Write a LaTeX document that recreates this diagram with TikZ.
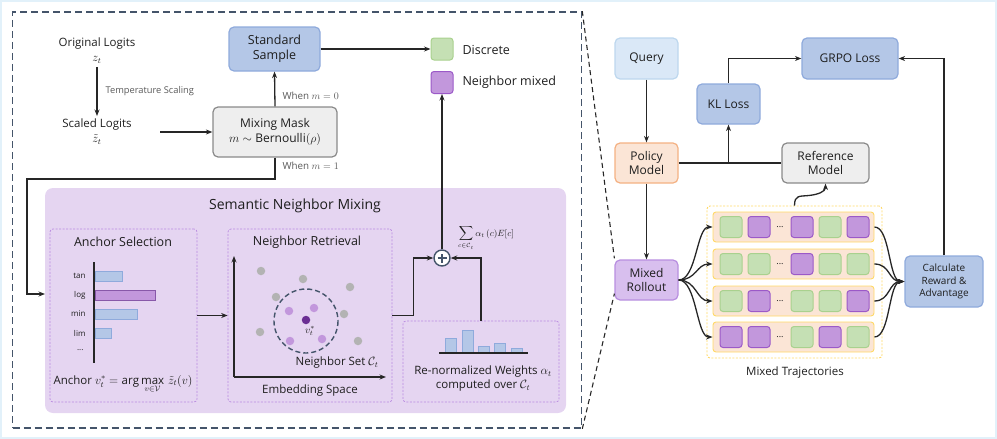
\documentclass[tikz,border=0pt]{standalone}
\usepackage{fontspec}
\setmainfont{Open Sans}
\usetikzlibrary{arrows.meta,shapes.geometric}
\definecolor{cBlue}{HTML}{B4C7E7}
\definecolor{cBlueD}{HTML}{8FAADC}
\definecolor{cQ}{HTML}{DAE8F7}
\definecolor{cQD}{HTML}{BDD7EE}
\definecolor{cOr}{HTML}{FBE5D6}
\definecolor{cOrD}{HTML}{F4B183}
\definecolor{cRo}{HTML}{D8BFEE}
\definecolor{cRoD}{HTML}{B88EE0}
\definecolor{cGr}{HTML}{EEEEEE}
\definecolor{cGrD}{HTML}{8A8A8A}
\definecolor{cG}{HTML}{C5E0B4}
\definecolor{cGD}{HTML}{A9D18E}
\definecolor{cP}{HTML}{C297DC}
\definecolor{cPD}{HTML}{9B59C8}
\definecolor{cPanel}{HTML}{E5D5F1}
\definecolor{cDash}{HTML}{B98AE0}
\definecolor{cOut}{HTML}{44546A}
\definecolor{cYel}{HTML}{FFD966}
\definecolor{cDot}{HTML}{B3B3B3}
\definecolor{cDk}{HTML}{6A2E93}
\definecolor{cTxt}{HTML}{1E1E1E}
\definecolor{cGray}{HTML}{595959}
\definecolor{cFrame}{HTML}{E2F1FA}
\begin{document}
\begin{tikzpicture}[x=1pt,y=-1pt,
  every node/.style={text=cTxt},
  box/.style={draw, rounded corners=5pt, line width=1.2pt, align=center, inner sep=0pt, font=\fontsize{12}{14.5}\selectfont},
  bluebox/.style={box, fill=cBlue, draw=cBlueD},
  qbox/.style={box, fill=cQ, draw=cQD},
  obox/.style={box, fill=cOr, draw=cOrD},
  rbox/.style={box, fill=cRo, draw=cRoD},
  gbox/.style={box, fill=cGr, draw=cGrD},
  arr/.style={-{Stealth[length=6.5pt,width=5pt]}, line width=1.3pt, draw=black!85},
  plain/.style={line width=1.3pt, draw=black!85},
  dbox/.style={draw=cDash, dash pattern=on 2pt off 1.5pt, rounded corners=3pt, line width=0.7pt, inner sep=0pt},
  sq/.style={minimum width=22pt, minimum height=21pt, rounded corners=3pt, line width=1pt, inner sep=0pt},
  gsq/.style={sq, fill=cG, draw=cGD},
  psq/.style={sq, fill=cP, draw=cPD},
  rowbox/.style={fill=cOr, draw=cYel, line width=0.9pt, rounded corners=3pt, minimum width=161pt, minimum height=30pt, inner sep=0pt},
  txt/.style={font=\fontsize{11.5}{15}\selectfont, align=center},
  small/.style={font=\fontsize{9.3}{11}\selectfont, text=cGray},
  whenl/.style={font=\fontsize{9.8}{11}\selectfont, text=cGray},
  bartick/.style={font=\fontsize{8}{9}\selectfont, anchor=east},
  dot/.style={circle, inner sep=0pt, minimum size=8.5pt},
  bbar/.style={fill=cBlue, draw=cBlueD, line width=0.8pt},
  pbar/.style={fill=cP, draw=cDk!80, line width=0.8pt}
]
\useasboundingbox (0,0) rectangle (997,439);
\draw[cFrame, line width=2pt] (1,1) rectangle (996,438);

% outer dashed box
\node[draw=cOut, dash pattern=on 7pt off 4pt, line width=1.6pt, minimum width=569pt, minimum height=416pt, inner sep=0pt] (outer) at (297,220) {};

% ---------- left top ----------
\node[txt, inner sep=1pt] (orig) at (97,51) {Original Logits\\$z_t$};
\node[txt, inner sep=1pt] (scaled) at (97,132) {Scaled Logits\\$\tilde{z}_t$};
\draw[arr, shorten <=2pt, shorten >=2pt] (orig) -- (scaled);
\node[small, anchor=west] (temp) at (102,91) {Temperature Scaling};

\node[gbox, minimum width=124pt, minimum height=50pt] (mask) at (275,132) {Mixing Mask\\$m\sim\mathrm{Bernoulli}(\rho)$};
\node[bluebox, font=\fontsize{12.5}{15}\selectfont, minimum width=91pt, minimum height=44pt] (std) at (274.5,49) {Standard\\Sample};
\coordinate (sl) at (160,132);
\draw[arr] (sl) -- (mask.west);
\draw[arr] (mask.north) -- (std.south);
\node[whenl, anchor=west] at (279,96) {When $m=0$};
\node[whenl, anchor=west] at (279,166) {When $m=1$};

% legend
\node[gsq, minimum width=22pt, minimum height=22pt] (legG) at (442,49) {};
\node[anchor=west, font=\fontsize{12.5}{14}\selectfont] at (459,50) {Discrete};
\node[psq, minimum width=22pt, minimum height=22pt] (legP) at (442,82.5) {};
\node[anchor=west, font=\fontsize{12.5}{14}\selectfont] at (459,82) {Neighbor mixed};
\draw[arr] (std.east) -- (legG.west);

% ---------- semantic neighbor mixing panel ----------
\node[fill=cPanel, rounded corners=8pt, minimum width=521pt, minimum height=225pt, inner sep=0pt] (panel) at (305.5,300.5) {};
\node[font=\fontsize{14}{16}\selectfont] at (295,206) {Semantic Neighbor Mixing};

\coordinate (lc) at (27,179);
\coordinate (mm1) at (45,294);
\draw[arr] (mask.south) |- (lc) |- (mm1);

% anchor selection
\node[dbox, minimum width=147pt, minimum height=173pt] (as) at (123.5,315.5) {};
\node[font=\fontsize{12.5}{14}\selectfont] at (123,242) {Anchor Selection};
\draw[line width=1.2pt, black!85] (94,262) -- (94,363);
\draw[bbar] (95,271) rectangle (122,281);
\draw[pbar] (95,290.5) rectangle (155,300);
\draw[bbar] (95,309) rectangle (137,319);
\draw[bbar] (95,328) rectangle (111,338);
\node[bartick] at (89,276) {tan};
\node[bartick] at (89,295.5) {log};
\node[bartick] at (89,314) {min};
\node[bartick] at (89,333) {lim};
\node[bartick] at (87,350) {...};
\node[font=\fontsize{11.5}{13}\selectfont, inner sep=0pt] at (123,384) {Anchor $v_t^{*}=\arg\max\limits_{v\in\mathcal{V}}\,\tilde{z}_t(v)$};

% neighbor retrieval
\node[dbox, minimum width=164pt, minimum height=173pt] (nr) at (310,315.5) {};
\node[font=\fontsize{12.5}{14}\selectfont] at (307,242) {Neighbor Retrieval};
\draw[arr] (as.east) -- (nr.west);
\draw[arr] (234,377) -- (234,256);
\draw[arr] (234,377) -- (386,377);
\foreach \p in {(261,271),(303,279),(350,287),(276,297),(344,314),(260,332),(358,341)}
  \node[dot, fill=cDot] at \p {};
\foreach \p in {(289,311),(314,308),(290,341),(322,339)}
  \node[dot, fill=cP] at \p {};
\node[dot, fill=cDk] (anc) at (306,320) {};
\node[font=\fontsize{10}{11}\selectfont] at (310,331) {$v_t^{*}$};
\draw[cOut, line width=1.4pt, dash pattern=on 5pt off 3pt] (306,321) circle (32);
\node[font=\fontsize{11.5}{13}\selectfont] at (337,363) {Neighbor Set $\mathcal{C}_t$};
\node[font=\fontsize{11.5}{13}\selectfont] at (310,391) {Embedding Space};

% re-normalized weights
\node[dbox, minimum width=156pt, minimum height=81pt] (rw) at (481,361.5) {};
\draw[bbar] (445,338) rectangle (456,353);
\draw[bbar] (462,330) rectangle (473,353);
\draw[bbar] (478,346) rectangle (489,353);
\draw[bbar] (494,343) rectangle (505,353);
\draw[bbar] (511,348) rectangle (522,353);
\draw[line width=1.2pt, black!85] (439,353) -- (528,353);
\node[font=\fontsize{11.5}{14}\selectfont, align=center] at (483,379) {Re-normalized Weights $\alpha_t$\\computed over $\mathcal{C}_t$};

% plus
\node[circle, draw=cOut, fill=white, line width=1.4pt, minimum size=16pt, inner sep=0pt] (plus) at (442,258) {};
\draw[cOut, line width=1.4pt] ([xshift=-4.5pt]plus.center) -- ([xshift=4.5pt]plus.center);
\draw[cOut, line width=1.4pt] ([yshift=-4.5pt]plus.center) -- ([yshift=4.5pt]plus.center);
\draw[arr] (nr.east) -- ++(21,0) |- (plus.west);
\draw[arr] (rw.north) |- (plus.east);
\draw[arr] (plus.north) -- (legP.south);
\node[font=\fontsize{9}{11}\selectfont] at (486,238) {$\displaystyle\sum_{c\in\mathcal{C}_t}\alpha_t\,(c)E[c]$};

% ---------- right side ----------
\node[qbox, minimum width=63pt, minimum height=41pt] (query) at (646.5,58.5) {Query};
\node[obox, minimum width=63pt, minimum height=40pt] (policy) at (646.5,163) {Policy\\Model};
\node[rbox, minimum width=63pt, minimum height=40pt] (roll) at (646.5,280) {Mixed\\Rollout};
\node[bluebox, minimum width=63pt, minimum height=40pt] (kl) at (728.5,104) {KL Loss};
\node[bluebox, minimum width=96pt, minimum height=41pt] (grpo) at (850,58.5) {GRPO Loss};
\node[gbox, minimum width=87pt, minimum height=40pt] (ref) at (825.5,163) {Reference\\Model};
\node[bluebox, font=\fontsize{10}{12.8}\selectfont, minimum width=78pt, minimum height=51pt] (calc) at (944,281.5) {Calculate\\Reward \&\\Advantage};

\draw[arr] (query) -- (policy);
\draw[arr] (policy) -- (roll);
\draw[plain] (policy.east) -- (ref.west);
\draw[arr] (kl.south |- policy.east) -- (kl.south);
\draw[arr] (kl.north) |- (grpo.west);
\draw[arr] (calc.north) |- (grpo.east);

% dashed zoom lines
\draw[black!85, line width=1.1pt, dash pattern=on 5pt off 3.5pt] (outer.north east) -- ([yshift=1pt]roll.north west);
\draw[black!85, line width=1.1pt, dash pattern=on 5pt off 3.5pt] (outer.south east) -- ([yshift=7pt]roll.south west);

% trajectories
\node[draw=cYel, dash pattern=on 2pt off 1.5pt, line width=0.9pt, rounded corners=3pt, minimum width=175pt, minimum height=152pt, inner sep=0pt] (traj) at (794.5,282) {};
\node[rowbox] (r1) at (793.5,227) {};
\node[rowbox] (r2) at (793.5,264) {};
\node[rowbox] (r3) at (793.5,301) {};
\node[rowbox] (r4) at (793.5,337) {};
\newcommand{\trow}[6]{%
  \node[#2] at (731,#1) {};
  \node[#3] at (759,#1) {};
  \node[font=\fontsize{9}{10}\selectfont] at (780,#1) {...};
  \node[#4] at (802,#1) {};
  \node[#5] at (830,#1) {};
  \node[#6] at (858,#1) {};}
\trow{227}{gsq}{psq}{psq}{gsq}{psq}
\trow{264}{gsq}{gsq}{psq}{gsq}{gsq}
\trow{301}{gsq}{psq}{gsq}{gsq}{psq}
\trow{337}{psq}{psq}{gsq}{psq}{gsq}
\node[font=\fontsize{11.5}{13}\selectfont] at (795,373) {Mixed Trajectories};

\foreach \r in {r1,r2,r3,r4} {
  \draw[arr] (roll.east) .. controls +(18,0) and +(-16,0) .. (\r.west);
  \draw[arr] (\r.east) .. controls +(16,0) and +(-16,0) .. (calc.west);
}
\coordinate (sqm) at (809,195.5);
\draw[arr] (traj.north) .. controls +(0,-11) and +(-9,1) .. (sqm) .. controls +(9,-1) and +(0,8) .. (ref.south);
\end{tikzpicture}
\end{document}
